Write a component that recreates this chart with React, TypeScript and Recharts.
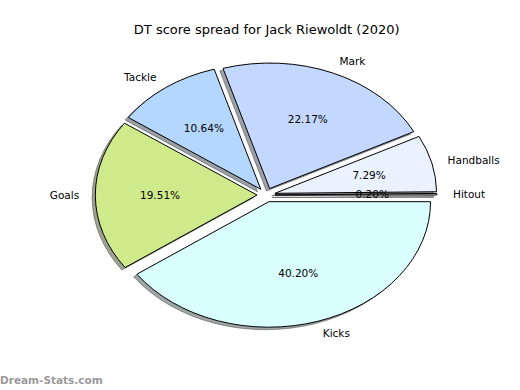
import React from 'react';
import { PieChart, Pie, Cell } from 'recharts';

// ---- data ----
const categories = ['Hitout', 'Handballs', 'Mark', 'Tackle', 'Goals', 'Kicks'];
const shares = [0.2, 7.29, 22.17, 10.64, 19.51, 40.2];
const sliceColors = ['#e6e6e6', '#eaf1ff', '#c4d8ff', '#b4d7ff', '#cfea8a', '#d9ffff'];
const chartTitle = 'DT score spread for Jack Riewoldt (2020)';
const watermark = 'Dream-Stats.com';

const data = categories.map((name, i) => ({ name, value: shares[i] }));

// ---- layout ----
const W = 520;
const H = 390;
const CX = 266.1;
const CY = 195;
const RX = 161.7;
const RY = 125.5;
const ASPECT = RY / RX;
const EXPLODE = 0.056;
const SHADOW_DX = -3.2;
const SHADOW_DY = 2.5;
const FONT = '"DejaVu Sans", Verdana, sans-serif';
const FS = 10.5;
const RAD = Math.PI / 180;

function darken(hex: string, k: number) {
  const n = parseInt(hex.slice(1), 16);
  const r = Math.round(((n >> 16) & 255) * k);
  const g = Math.round(((n >> 8) & 255) * k);
  const b = Math.round((n & 255) * k);
  return `rgb(${r},${g},${b})`;
}

function wedgePath(cx: number, cy: number, rx: number, ry: number, a0: number, a1: number) {
  const mid = ((a0 + a1) / 2) * RAD;
  const ox = cx + EXPLODE * rx * Math.cos(mid);
  const oy = cy - EXPLODE * ry * Math.sin(mid);
  const x0 = ox + rx * Math.cos(a0 * RAD);
  const y0 = oy - ry * Math.sin(a0 * RAD);
  const x1 = ox + rx * Math.cos(a1 * RAD);
  const y1 = oy - ry * Math.sin(a1 * RAD);
  const large = Math.abs(a1 - a0) > 180 ? 1 : 0;
  return `M${ox},${oy} L${x0},${y0} A${rx},${ry} 0 ${large} 0 ${x1},${y1} Z`;
}

const WedgeShape = (props: any) => {
  const { cx, cy, outerRadius, startAngle, endAngle, fill } = props;
  const d = wedgePath(cx, cy, outerRadius, outerRadius * ASPECT, startAngle, endAngle);
  return <path d={d} fill={fill} stroke="#000" strokeWidth={1} strokeLinejoin="miter" />;
};

const ShadowShape = (props: any) => {
  const { cx, cy, outerRadius, startAngle, endAngle, fill } = props;
  const d = wedgePath(cx + SHADOW_DX, cy + SHADOW_DY, outerRadius, outerRadius * ASPECT, startAngle, endAngle);
  const c = darken(fill, 0.3);
  return <path d={d} fill={c} fillOpacity={0.5} stroke={c} strokeOpacity={0.5} strokeWidth={1} />;
};

const renderLabel = (props: any) => {
  const { cx, cy, outerRadius, midAngle, percent, index } = props;
  const rx = outerRadius;
  const ry = outerRadius * ASPECT;
  const c = Math.cos(midAngle * RAD);
  const s = Math.sin(midAngle * RAD);
  const ox = cx + EXPLODE * rx * c;
  const oy = cy - EXPLODE * ry * s;
  const lx = ox + 1.1 * rx * c;
  const ly = oy - 1.1 * ry * s;
  const px = ox + 0.6 * rx * c;
  const py = oy - 0.6 * ry * s;
  return (
    <g>
      <text
        x={lx}
        y={ly + 0.36 * FS}
        textAnchor={lx > cx ? 'start' : 'end'}
        fontFamily={FONT}
        fontSize={FS}
        fill="#000"
        stroke="none"
      >
        {categories[index]}
      </text>
      <text
        x={px}
        y={py + 0.36 * FS}
        textAnchor="middle"
        fontFamily={FONT}
        fontSize={FS}
        fill="#000"
        stroke="none"
      >
        {(percent * 100).toFixed(2)}%
      </text>
    </g>
  );
};

export default function App() {
  return (
    <div style={{ position: 'absolute', left: 0, top: 0, width: W, height: H, background: '#fff' }}>
      <PieChart width={W} height={H} margin={{ top: 0, right: 0, bottom: 0, left: 0 }}>
        <Pie
          data={data}
          dataKey="value"
          nameKey="name"
          cx={CX}
          cy={CY}
          innerRadius={0}
          outerRadius={RX}
          startAngle={0}
          endAngle={360}
          paddingAngle={0}
          isAnimationActive={false}
          shape={ShadowShape}
          label={false}
          labelLine={false}
          stroke="none"
        >
          {data.map((d, i) => (
            <Cell key={`s-${d.name}`} fill={sliceColors[i]} />
          ))}
        </Pie>
        <Pie
          data={data}
          dataKey="value"
          nameKey="name"
          cx={CX}
          cy={CY}
          innerRadius={0}
          outerRadius={RX}
          startAngle={0}
          endAngle={360}
          paddingAngle={0}
          isAnimationActive={false}
          shape={WedgeShape}
          label={renderLabel}
          labelLine={false}
          stroke="none"
        >
          {data.map((d, i) => (
            <Cell key={`w-${d.name}`} fill={sliceColors[i]} />
          ))}
        </Pie>
      </PieChart>
      <svg
        width={W}
        height={H}
        style={{ position: 'absolute', left: 0, top: 0, pointerEvents: 'none' }}
      >
        <text x={266.7} y={34} textAnchor="middle" fontFamily={FONT} fontSize={13} fill="#000">
          {chartTitle}
        </text>
        <text x={0} y={384} fontFamily={FONT} fontSize={10.5} fontWeight="bold" fill="#9a9a9a">
          {watermark}
        </text>
      </svg>
    </div>
  );
}
